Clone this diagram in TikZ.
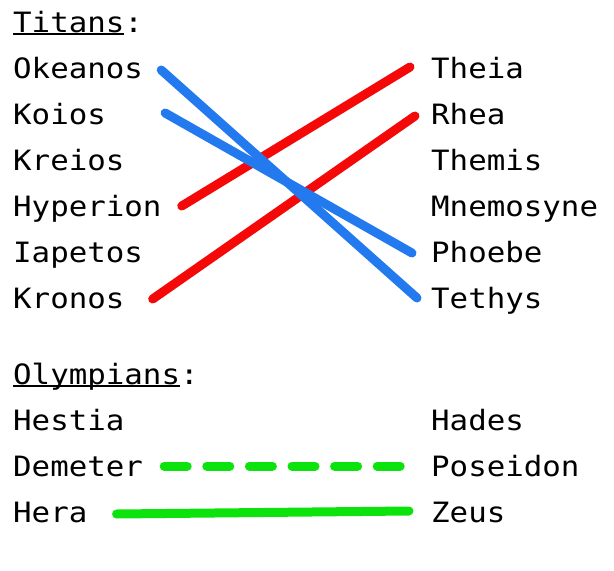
\documentclass[tikz,border=0pt]{standalone}
\usepackage{fontspec}
\setmonofont[FakeStretch=1.1]{DejaVu Sans Mono}
\definecolor{linkblue}{RGB}{35,122,238}
\definecolor{linkred}{RGB}{245,8,8}
\definecolor{linkgreen}{RGB}{12,226,12}
\newcommand\undl[1]{\setbox0\hbox{#1}\rlap{\rule[-2.5pt]{\wd0}{1.5pt}}\box0}
\begin{document}
\begin{tikzpicture}[
            x=1pt, y=1pt,
            god/.style={anchor=base west, inner sep=0pt, font=\ttfamily\fontsize{28}{34}\selectfont},
            link/.style={line width=9pt, line cap=round},
            blue link/.style={link, linkblue},
            red link/.style={link, linkred},
            green link/.style={link, linkgreen}
            ]
            \useasboundingbox (0,0) rectangle (614,-571);
            % titans
            \node[god] (titans) at (13,-32) {\undl{Titans}:};
            \node[god] (okeanos) at (13,-78) {Okeanos};
            \node[god] (koios) at (13,-124) {Koios};
            \node[god] (kreios) at (13,-170) {Kreios};
            \node[god] (hyperion) at (13,-216) {Hyperion};
            \node[god] (iapetos) at (13,-262) {Iapetos};
            \node[god] (kronos) at (13,-308) {Kronos};
            \node[god] (theia) at (431,-78) {Theia};
            \node[god] (rhea) at (431,-124) {Rhea};
            \node[god] (themis) at (431,-170) {Themis};
            \node[god] (mnemosyne) at (431,-216) {Mnemosyne};
            \node[god] (phoebe) at (431,-262) {Phoebe};
            \node[god] (tethys) at (431,-308) {Tethys};
            % olympians
            \node[god] (olympians) at (13,-384) {\undl{Olympians}:};
            \node[god] (hestia) at (13,-430) {Hestia};
            \node[god] (demeter) at (13,-476) {Demeter};
            \node[god] (hera) at (13,-522) {Hera};
            \node[god] (hades) at (431,-430) {Hades};
            \node[god] (poseidon) at (431,-476) {Poseidon};
            \node[god] (zeus) at (431,-522) {Zeus};

            \draw[red link] ([shift={(20,10)}]hyperion.base east) -- ([shift={(-21,11)}]theia.base west);
            \draw[red link] ([shift={(28,9)}]kronos.base east) -- ([shift={(-16,8)}]rhea.base west);
            \draw[blue link] ([shift={(18,8)}]okeanos.base east) -- ([shift={(-14,10)}]tethys.base west);
            \draw[blue link] ([shift={(59,11)}]koios.base east) -- ([shift={(-19,9)}]phoebe.base west);
            \draw[green link, dash pattern=on 23pt off 19.6pt] ([shift={(21,10)}]demeter.base east) -- ([shift={(-29,10)}]poseidon.base west);
            \draw[green link] ([shift={(29,8)}]hera.base east) -- ([shift={(-22,11)}]zeus.base west);
\end{tikzpicture}
\end{document}
